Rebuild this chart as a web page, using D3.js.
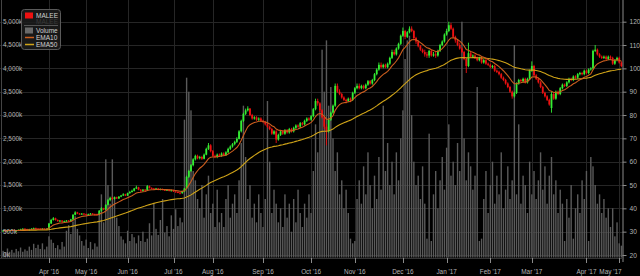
<!DOCTYPE html>
<html><head><meta charset="utf-8">
<script src="https://cdn.jsdelivr.net/npm/d3@7"></script>
<style>html,body{margin:0;padding:0;background:#000;}svg{display:block;}</style>
</head><body><svg id="c" width="640" height="276"></svg>
<script>
const seriesName = "MALEE";
const opens = [
30.25,30.5,30.25,30.75,30.5,30.75,30.25,30.5,30.75,31,
31.25,31,30.75,31,31.25,31.5,31.25,31.25,31,31.25,
31,31.25,33.5,35,35.75,35,34.5,34.75,34.25,34.5,
34.75,34.5,35.25,37.25,38.25,37.75,37.5,37.75,37.5,37.25,
37.5,37.75,37.5,37.5,37.25,39,40,39.5,41.5,43.5,
44.5,44,44.75,44.25,45,45.5,46,45.5,46.5,47,
47.5,48.5,49,48,47.5,48,47.75,49.5,48.75,48.5,
48.25,48.5,48,48.25,48,47.75,48,47.5,47.75,47.25,
47,46.75,46.5,47.25,48.5,53.5,56,58.5,61,62.5,
61.5,62,61.25,63,65.5,67,64.5,62.5,62,63,
62.5,63.5,62.75,64,65.5,66.5,67.5,68.5,69.75,73,
77.5,80.5,82,82.75,80,78.5,79,78,78.5,77.5,
77,76,75,74,72,73,69.5,71.5,73,72,
73.5,72.5,74,73,74.5,75.5,75,76.5,76,77.5,
78.5,78,79.5,82.5,86,85,82,79,75,73,
78,81,84,92.5,90,89,87.5,86.5,86,87,
86.5,89.5,91.5,92.5,91.5,92.5,91.5,93,94.5,93.5,
95,97.5,99.5,101.5,100.5,101.5,100.5,102,104.5,107,
106,108.5,110.5,114,116,113.5,115.5,117,116,113,
111.5,109.5,108,107,106,105.5,107.5,105.5,106,105.5,
107.5,110,111.5,114.5,116,118.5,117,113.5,112,110,
108.5,107,104,101,106.5,105,105.5,104.5,103.5,104.5,
102.5,103.5,102,101.5,100.5,101,99,98.5,97.5,96,
95,93.5,92,90,88,89.5,93.5,95,94.5,95.5,
94,95.5,99,101,97,95.5,94,92,89.5,88,
86.5,83,89,87,90,89,91.5,93,92.5,94,
95.5,95,96.5,96,97.5,98,97.5,99,98,99.5,
100,107.5,108,106,105,104.5,105,104,105,104.5,
102,103.5,104.5,102.5];
const highs = [
30.75,30.5,30.75,30.75,31,31,30.75,31,31.25,31.5,
31.5,31.25,31.25,31.5,31.75,31.75,31.5,31.5,31.5,31.5,
31.5,33.75,35.5,36.25,36,35.25,35,35,34.75,35,
35,35.5,37.5,38.75,38.5,38,38,38,37.75,37.75,
38,38,37.75,37.75,39.25,40.5,40.25,41.75,44,45,
45,45,45,45.25,45.75,46.5,46.25,46.75,47.5,48,
48.75,49.75,49.25,48.25,48.25,48.25,50,49.75,49,48.75,
48.75,48.75,48.5,48.5,48.25,48.25,48.25,48,48,47.5,
47.25,47,47.5,48.75,54,56.5,59,61.5,63,63,
62.5,62.5,63.5,66,68,67.5,65,63,63.5,63.5,
64,64,64.5,66,67,68,69,70.5,73.5,78,
81,82.75,83.75,83,80.5,79.5,79.5,79,79,78,
77.5,76.5,75.5,74.5,73.5,73.5,72,73.5,73.5,74,
74,74.5,74.5,75,76,76,77,77,78,79,
79,80,83,87,87,85.5,82.5,79.5,76,78.5,
81.5,84.5,93.5,93.5,91,89.5,88,87,87.5,87.5,
90,92,93.5,93.5,93,93,93.5,95,95,95.5,
98,100,102.5,102.5,102,102,102.5,105,108,108,
109,111,114.5,117.5,116.5,116,118,118,116.5,113.5,
112,110,108.5,108,107,108,108,107,107,108,
110.5,112,115,117,120,119.5,117.5,114,112.5,111,
109,107.5,104.5,111,107,106,106,105,105,105,
104,104,102.5,102,101.5,101.5,99.5,99,98,96.5,
95.5,94,92.5,90.5,90,94,95.5,95.5,96,96,
96,99.5,103,101.5,97.5,96,94.5,92.5,90,88.5,
87,90,89.5,90.5,90.5,92,93.5,93.5,94.5,96,
96,97,97,98,98.5,98.5,99.5,99.5,100,100.5,
108,110,108.5,106.5,105.5,105.5,105.5,105.5,105.5,105,
104,105,105,103];
const lows = [
30,30,30,30.25,30.25,30.25,30,30.25,30.5,30.75,
30.75,30.5,30.5,30.75,31,31,30.75,30.75,30.75,30.75,
30.75,31,33.25,34.75,34.75,34.25,34.25,34,34,34.25,
34.25,34.25,35,37,37.5,37.25,37.25,37.25,37,37,
37.25,37.25,37,37,37,38.5,39.25,39.25,41.25,43,
43.5,43.75,44,44,44.75,45.25,45.25,45.25,46.25,46.75,
47.25,48.25,47.75,47,47.25,47.5,47.5,48.5,48.25,48,
48,47.75,47.75,47.75,47.5,47.5,47.25,47.25,47,46.75,
46.5,46,46.25,47,48.25,53,55.5,58,60.5,61,
61,60.75,61,62.75,65,64,62,61.5,61.5,62,
62,62.5,62.5,63.75,65,66,67,68,69.5,72.5,
77,80,81.5,79.5,78,78,77.5,77.5,77,76.5,
75.5,74.5,73.5,71.5,71.5,68,69,71,71.5,71.5,
72,72,72.5,72.5,74,74.5,74.5,75.5,75.5,77,
77.5,77.5,79,82,84,81.5,78.5,74,67,72.5,
77.5,80.5,83.5,89.5,88.5,87,86,85,85.5,85.5,
86,89,91,91,91,91,91,92.5,93,93,
94.5,97,99,100,100,100,100,101.5,104,105.5,
105.5,108,110,113.5,112.5,113,115,115.5,112.5,110.5,
109,107.5,106.5,105,104.5,104.5,105,105,104.5,105,
107,109.5,111,114,115.5,116.5,113,111,109.5,108,
106.5,103.5,98,100.5,104.5,104.5,104,103,103,102,
102,101.5,101,100,100,98.5,98,97,95.5,94.5,
93,91.5,89.5,87,87.5,89,93,94,94,93.5,
93.5,95,98.5,96.5,95,93.5,91.5,89,87.5,86,
84,81,86.5,86.5,88.5,88.5,91,92,92,93.5,
94.5,94.5,95.5,95.5,97,97,97,97.5,97.5,99,
99.5,107,105.5,104.5,104,104,103.5,103.5,104,101.5,
101.5,103,102,100.5];
const closes = [
30.5,30.25,30.5,30.5,30.75,30.5,30.5,30.75,31,31.25,
31,30.75,31,31.25,31.5,31.25,31,31,31.25,31,
31.25,33.5,35,35.75,35,34.5,34.75,34.25,34.5,34.75,
34.5,35.25,37.25,38.25,37.75,37.5,37.75,37.5,37.25,37.5,
37.75,37.5,37.25,37.25,39,40,39.5,41.5,43.5,44.5,
44,44.75,44.25,45,45.5,46,45.5,46.5,47,47.5,
48.5,49,48,47.5,48,47.75,49.5,48.75,48.5,48.25,
48.5,48,48.25,48,47.75,48,47.5,47.75,47.25,47,
46.75,46.5,47.25,48.5,53.5,56,58.5,61,62.5,61.5,
62,61.25,63,65.5,67,64.5,62.5,62,63,62.5,
63.5,62.75,64,65.5,66.5,67.5,68.5,69.75,73,77.5,
80.5,82,82.75,80,78.5,79,78,78.5,77.5,77,
76,75,74,72,73,69.5,71.5,73,72,73.5,
72.5,74,73,74.5,75.5,75,76.5,76,77.5,78.5,
78,79.5,82.5,86,85,82,79,75,73,78,
81,84,92.5,90,89,87.5,86.5,86,87,86.5,
89.5,91.5,92.5,91.5,92.5,91.5,93,94.5,93.5,95,
97.5,99.5,101.5,100.5,101.5,100.5,102,104.5,107,106,
108.5,110.5,114,116,113.5,115.5,117,116,113,111.5,
109.5,108,107,106,105.5,107.5,105.5,106,105.5,107.5,
110,111.5,114.5,116,118.5,117,113.5,112,110,108.5,
107,104,101,106.5,105,105.5,104.5,103.5,104.5,102.5,
103.5,102,101.5,100.5,101,99,98.5,97.5,96,95,
93.5,92,90,88,89.5,93.5,95,94.5,95.5,94,
95.5,99,101,97,95.5,94,92,89.5,88,86.5,
84.5,89,87,90,89,91.5,93,92.5,94,95.5,
95,96.5,96,97.5,98,97.5,99,98,99.5,100,
107.5,108,106,105,104.5,105,104,105,104.5,102,
103.5,104.5,102.5,101];
const volumes = [
90,60,140,70,110,50,130,80,160,70,
120,90,180,110,240,150,220,130,250,120,
180,400,330,260,150,210,120,280,180,520,
640,450,720,830,560,420,300,200,330,150,
280,120,250,180,900,1300,700,2050,1500,1100,
2050,1250,800,620,400,330,250,520,300,450,
380,250,420,300,500,280,350,680,420,1100,
560,430,750,1200,480,620,400,850,560,980,
620,800,700,2900,3800,3500,3100,1800,1600,1200,
1000,1500,800,1300,1700,900,1100,600,1400,700,
900,600,1200,1500,800,1100,1300,900,1600,2400,
3200,2100,1200,1500,800,1100,700,1300,900,600,
1200,3300,2000,900,1400,1100,700,1000,600,1300,
800,1100,500,1200,700,1400,900,600,1100,800,
1300,900,1800,2800,2200,3100,4400,3500,4600,3200,
3600,2500,1800,2200,1300,1600,1000,1400,900,350,
250,300,1200,1600,1100,1900,1300,2200,1500,1000,
1700,1200,2100,1400,3200,1800,2400,1500,2000,1300,
2200,1600,2500,3100,4200,4600,4700,3000,2000,1500,
1700,1200,1900,1100,350,2600,300,1300,1800,1000,
1600,2100,1400,2300,2800,1700,2000,1500,2400,1800,
5000,2500,1600,2200,1900,1400,1700,3600,300,350,
1200,1800,900,1500,2000,1100,1700,1300,2200,1000,
1400,1900,1200,1600,4500,1300,2800,1100,1700,1500,
900,2000,1300,1800,1200,1600,2200,1400,1900,1100,
1700,2100,1300,1600,900,1400,1100,300,1200,800,
1500,350,1000,1300,900,1600,1200,1800,300,2100,
1900,1500,1100,1300,900,1200,800,1000,600,1000,
400,700,250,200];
const monthLabels = ["Apr '16","May '16","Jun '16","Jul '16","Aug '16","Sep '16","Oct '16","Nov '16","Dec '16","Jan '17","Feb '17","Mar '17","Apr '17","May '17"];
const monthStarts = [21,38,57,78,96,119,141,161,183,203,223,242,267,282];
const priceTicks = [20,30,40,50,60,70,80,90,100,110,120];
const volumeTicks = [0,500,1000,1500,2000,2500,3000,3500,4000,4500,5000];

const N = closes.length;
const svg = d3.select("#c");
const L = 2, R = 622.5, T = 0;
const x = d3.scaleLinear().domain([-0.5, N - 0.5]).range([L, R]);
const yP = d3.scaleLinear().domain([20, 120]).range([255, 21.7]);
const yV = d3.scaleLinear().domain([0, 5000]).range([255, 21.7]);
const FONT = "'Liberation Sans', Arial, sans-serif";
const FS = "6.4px";

svg.append("rect").attr("width", 640).attr("height", 276).attr("fill", "#000");

// grid
const g = svg.append("g");
g.selectAll("line.h").data(priceTicks).join("line")
  .attr("x1", 0).attr("x2", R).attr("y1", d => Math.round(yP(d)) + 0.5).attr("y2", d => Math.round(yP(d)) + 0.5)
  .attr("stroke", "#262626").attr("stroke-width", 1);
g.selectAll("line.v").data(monthStarts).join("line")
  .attr("x1", d => Math.round(x(d)) + 0.5).attr("x2", d => Math.round(x(d)) + 0.5)
  .attr("y1", T).attr("y2", 258)
  .attr("stroke", "#262626").attr("stroke-width", 1);

// volume
const idx = d3.range(N);
svg.append("g").selectAll("rect").data(idx).join("rect")
  .attr("x", i => x(i) - 0.7).attr("width", 1.4)
  .attr("y", i => yV(volumes[i])).attr("height", i => 257.5 - yV(volumes[i]))
  .attr("fill", "#5a5a5a");

// candles
const up = i => closes[i] >= opens[i];
const cg = svg.append("g");
cg.selectAll("line").data(idx).join("line")
  .attr("x1", i => x(i)).attr("x2", i => x(i))
  .attr("y1", i => yP(highs[i])).attr("y2", i => yP(lows[i]))
  .attr("stroke", i => up(i) ? "#33ee33" : "#ee1111").attr("stroke-width", 0.9);
cg.selectAll("rect").data(idx).join("rect")
  .attr("x", i => x(i) - 0.9).attr("width", 1.8)
  .attr("y", i => yP(Math.max(opens[i], closes[i])))
  .attr("height", i => Math.max(1, Math.abs(yP(opens[i]) - yP(closes[i]))))
  .attr("fill", i => up(i) ? "#33ee33" : "#ee1111");

// EMAs
function ema(vals, n) {
  const k = 2 / (n + 1); let e = vals[0];
  return vals.map((v, i) => i === 0 ? e : (e = v * k + e * (1 - k)));
}
const ema10 = ema(closes, 10), ema50 = ema(closes, 50);
const line = d3.line().x((d, i) => x(i)).y(d => yP(d));
svg.append("path").datum(ema50).attr("d", line).attr("fill", "none").attr("stroke", "#cfa318").attr("stroke-width", 1.1);
svg.append("path").datum(ema10).attr("d", line).attr("fill", "none").attr("stroke", "#cc5e1e").attr("stroke-width", 1.1);

// right axis
const ra = svg.append("g").attr("transform", `translate(${R},0)`)
  .call(d3.axisRight(yP).tickValues(priceTicks).tickSize(4).tickPadding(3));
ra.select(".domain").attr("stroke", "#8a8a8a").attr("d", "M0.5,0V262");
ra.selectAll(".tick line").attr("stroke", "#8a8a8a");
ra.selectAll("text").attr("fill", "#b4b4b4").style("font-family", FONT).style("font-size", "6.6px");

// left axis labels
svg.append("g").selectAll("text").data(volumeTicks).join("text")
  .attr("x", 3).attr("y", d => yV(d)).attr("dy", "0.35em")
  .attr("fill", "#b4b4b4").style("font-family", FONT).style("font-size", FS)
  .text(d => d3.format(",")(d) + "k");
svg.append("line").attr("x1", 1.5).attr("x2", 1.5).attr("y1", 0).attr("y2", 258).attr("stroke", "#444");

// bottom axis
const ba = svg.append("g").attr("transform", "translate(0,258)");
ba.append("line").attr("x1", 0).attr("x2", R).attr("y1", 0.5).attr("y2", 0.5).attr("stroke", "#333");
ba.selectAll("line.t").data(monthStarts).join("line")
  .attr("x1", d => Math.round(x(d)) + 0.5).attr("x2", d => Math.round(x(d)) + 0.5)
  .attr("y1", 0).attr("y2", 5).attr("stroke", "#8a8a8a");
ba.selectAll("text").data(monthStarts).join("text")
  .attr("x", (d, i) => i === monthStarts.length - 1 ? 621.5 : x(d))
  .attr("y", 15.5)
  .attr("text-anchor", (d, i) => i === monthStarts.length - 1 ? "end" : "middle")
  .attr("fill", "#b4b4b4").style("font-family", FONT).style("font-size", FS)
  .text((d, i) => monthLabels[i]);

// legend
const lg = svg.append("g");
lg.append("rect").attr("x", 21.5).attr("y", 9.5).attr("width", 39).attr("height", 40).attr("rx", 3)
  .attr("fill", "rgba(28,28,28,0.85)").attr("stroke", "#5a5a5a");
lg.append("rect").attr("x", 25).attr("y", 12.5).attr("width", 8).attr("height", 6).attr("fill", "#ee1111");
lg.append("text").attr("x", 36).attr("y", 18).text(seriesName);
lg.append("text").attr("x", 36).attr("y", 24).text(seriesName).attr("fill", "#3a3a3a");
lg.append("line").attr("x1", 24).attr("x2", 58).attr("y1", 25.5).attr("y2", 25.5).attr("stroke", "#555");
lg.append("rect").attr("x", 25).attr("y", 27.5).attr("width", 8).attr("height", 6).attr("fill", "#6a6a6a");
lg.append("text").attr("x", 36).attr("y", 33).text("Volume");
lg.append("line").attr("x1", 25).attr("x2", 34).attr("y1", 37.5).attr("y2", 37.5).attr("stroke", "#cc5e1e").attr("stroke-width", 1.5);
lg.append("text").attr("x", 36).attr("y", 40).text("EMA10");
lg.append("line").attr("x1", 25).attr("x2", 34).attr("y1", 44.5).attr("y2", 44.5).attr("stroke", "#cfa318").attr("stroke-width", 1.5);
lg.append("text").attr("x", 36).attr("y", 47).text("EMA50");
lg.selectAll("text").filter(function(){ return !this.getAttribute("fill"); }).attr("fill", "#d0d0d0");
lg.selectAll("text").style("font-family", FONT).style("font-size", "6.5px");
</script></body></html>
